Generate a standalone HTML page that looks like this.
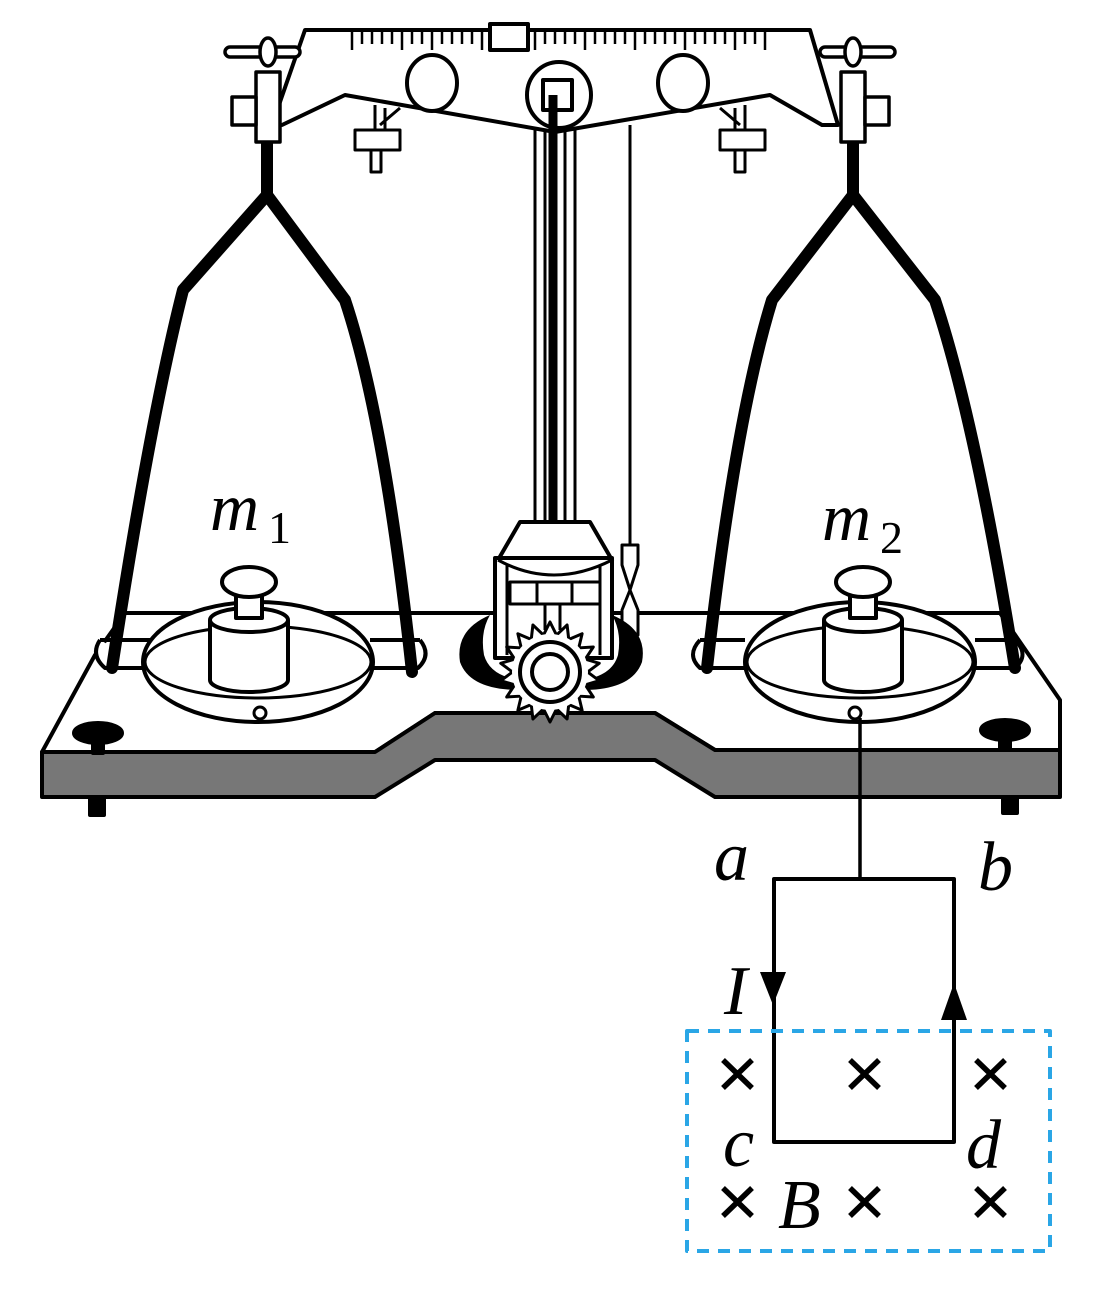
<!DOCTYPE html>
<html><head><meta charset="utf-8"><style>
html,body{margin:0;padding:0;background:#fff}
svg{display:block}
text{font-family:"Liberation Serif",serif;font-style:italic;fill:#000}
</style></head><body>
<svg width="1114" height="1294" viewBox="0 0 1114 1294" xmlns="http://www.w3.org/2000/svg">
<defs>
<polygon id="tooth" points="-7,-36 0,-50 7,-36"/>
</defs>
<g stroke="#000" stroke-width="4" fill="none" stroke-linejoin="round">
<path d="M42,752 L95,655 L125,613 L1000,613 L1060,700 L1060,750 L715,750 L655,713 L435,713 L375,752 Z" fill="#fff"/>
<path d="M42,752 L375,752 L435,713 L655,713 L715,750 L1060,750 L1060,797 L715,797 L655,760 L435,760 L375,797 L42,797 Z" fill="#777"/>
<rect x="90" y="797" width="14" height="18" fill="#000"/>
<rect x="1003" y="797" width="14" height="16" fill="#000"/>
<ellipse cx="98" cy="733" rx="24" ry="10" fill="#000"/>
<rect x="93" y="735" width="10" height="18" fill="#000"/>
<ellipse cx="1005" cy="730" rx="24" ry="10" fill="#000"/>
<rect x="1000" y="732" width="10" height="18" fill="#000"/>

<path d="M100,640 Q90,655 105,668 L150,668 M100,640 L150,640" fill="#fff"/>
<path d="M420,640 Q432,655 418,668 L370,668 M420,640 L370,640" fill="#fff"/>
<ellipse cx="258" cy="662" rx="115" ry="60" fill="#fff"/>
<ellipse cx="258" cy="662" rx="113" ry="36" fill="#fff" stroke-width="3"/>
<circle cx="260" cy="713" r="6" fill="#fff" stroke-width="3"/>
<path d="M700,640 Q686,655 700,668 L745,668 M700,640 L745,640" fill="#fff"/>
<path d="M1015,640 Q1030,655 1015,668 L975,668 M1015,640 L975,640" fill="#fff"/>
<ellipse cx="860" cy="662" rx="115" ry="60" fill="#fff"/>
<ellipse cx="860" cy="662" rx="113" ry="36" fill="#fff" stroke-width="3"/>
<circle cx="855" cy="713" r="6" fill="#fff" stroke-width="3"/>

<path d="M210,620 L210,680 A39,12 0 0 0 288,680 L288,620" fill="#fff"/>
<ellipse cx="249" cy="620" rx="39" ry="12" fill="#fff"/>
<rect x="236" y="588" width="26" height="30" fill="#fff"/>
<ellipse cx="249" cy="582" rx="27" ry="15" fill="#fff"/>
<path d="M824,620 L824,680 A39,12 0 0 0 902,680 L902,620" fill="#fff"/>
<ellipse cx="863" cy="620" rx="39" ry="12" fill="#fff"/>
<rect x="850" y="588" width="26" height="30" fill="#fff"/>
<ellipse cx="863" cy="582" rx="27" ry="15" fill="#fff"/>

<g stroke-width="12" stroke-linecap="round">
<path d="M267,140 L267,195 L183,290 Q150,420 112,668"/>
<path d="M267,195 L345,300 Q385,420 412,672"/>
<path d="M853,140 L853,195 L772,300 Q735,420 707,668"/>
<path d="M853,195 L935,300 Q975,420 1015,668"/>
</g>

<line x1="535" y1="125" x2="535" y2="522" stroke-width="3"/>
<line x1="545" y1="125" x2="545" y2="522" stroke-width="3"/>
<line x1="565" y1="125" x2="565" y2="522" stroke-width="3"/>
<line x1="575" y1="125" x2="575" y2="522" stroke-width="3"/>
<line x1="553" y1="95" x2="553" y2="522" stroke-width="9"/>
<line x1="630" y1="125" x2="630" y2="545" stroke-width="3"/>
<path d="M622,545 L638,545 L638,565 L630,590 L638,610 L638,635 L622,635 L622,610 L630,590 L622,565 Z" fill="#fff" stroke-width="3"/>
<!-- crescents -->
<path d="M490,615 Q455,630 460,662 Q470,690 520,690 L520,680 Q490,676 484,655 Q480,632 490,615 Z" fill="#000" stroke="none"/>
<path d="M612,615 Q648,630 642,662 Q632,690 582,690 L582,680 Q612,676 618,655 Q622,632 612,615 Z" fill="#000" stroke="none"/>
<path d="M520,522 L590,522 L612,560 L498,560 Z" fill="#fff"/>
<rect x="495" y="558" width="117" height="100" fill="#fff"/>
<line x1="507" y1="560" x2="507" y2="655" stroke-width="3"/>
<line x1="600" y1="560" x2="600" y2="655" stroke-width="3"/>
<path d="M498,560 Q553,590 612,560" fill="#fff" stroke-width="3"/>
<rect x="510" y="582" width="90" height="22" fill="#fff" stroke-width="3"/>
<line x1="537" y1="582" x2="537" y2="604" stroke-width="3"/>
<line x1="572" y1="582" x2="572" y2="604" stroke-width="3"/>
<line x1="545" y1="604" x2="545" y2="630" stroke-width="3"/>
<line x1="560" y1="604" x2="560" y2="630" stroke-width="3"/>
<!-- gear -->
<g transform="translate(550,672)" fill="#fff" stroke-width="3">
<use href="#tooth"/><use href="#tooth" transform="rotate(20)"/><use href="#tooth" transform="rotate(40)"/><use href="#tooth" transform="rotate(60)"/><use href="#tooth" transform="rotate(80)"/><use href="#tooth" transform="rotate(100)"/><use href="#tooth" transform="rotate(120)"/><use href="#tooth" transform="rotate(140)"/><use href="#tooth" transform="rotate(160)"/><use href="#tooth" transform="rotate(180)"/><use href="#tooth" transform="rotate(200)"/><use href="#tooth" transform="rotate(220)"/><use href="#tooth" transform="rotate(240)"/><use href="#tooth" transform="rotate(260)"/><use href="#tooth" transform="rotate(280)"/><use href="#tooth" transform="rotate(300)"/><use href="#tooth" transform="rotate(320)"/><use href="#tooth" transform="rotate(340)"/>
<circle r="38" stroke="none"/>
<circle r="30" stroke-width="4"/>
<circle r="18" stroke-width="4"/>
</g>

<path d="M305,30 L810,30 L838,125 L822,125 L770,95 L555,132 L345,95 L282,125 L272,125 Z" fill="#fff"/>
<g stroke-width="2.5">
<line x1="352" y1="32" x2="352" y2="50"/><line x1="362" y1="32" x2="362" y2="44"/><line x1="372" y1="32" x2="372" y2="44"/><line x1="382" y1="32" x2="382" y2="44"/><line x1="392" y1="32" x2="392" y2="44"/><line x1="402" y1="32" x2="402" y2="50"/><line x1="412" y1="32" x2="412" y2="44"/><line x1="422" y1="32" x2="422" y2="44"/><line x1="432" y1="32" x2="432" y2="50"/><line x1="442" y1="32" x2="442" y2="44"/><line x1="452" y1="32" x2="452" y2="44"/><line x1="462" y1="32" x2="462" y2="44"/><line x1="472" y1="32" x2="472" y2="44"/><line x1="482" y1="32" x2="482" y2="50"/>
<line x1="535" y1="32" x2="535" y2="50"/><line x1="545" y1="32" x2="545" y2="44"/><line x1="555" y1="32" x2="555" y2="44"/><line x1="565" y1="32" x2="565" y2="44"/><line x1="575" y1="32" x2="575" y2="44"/><line x1="585" y1="32" x2="585" y2="50"/><line x1="595" y1="32" x2="595" y2="44"/><line x1="605" y1="32" x2="605" y2="44"/><line x1="615" y1="32" x2="615" y2="44"/><line x1="625" y1="32" x2="625" y2="44"/><line x1="635" y1="32" x2="635" y2="50"/><line x1="645" y1="32" x2="645" y2="44"/><line x1="655" y1="32" x2="655" y2="44"/><line x1="665" y1="32" x2="665" y2="44"/><line x1="675" y1="32" x2="675" y2="44"/><line x1="685" y1="32" x2="685" y2="50"/><line x1="695" y1="32" x2="695" y2="44"/><line x1="705" y1="32" x2="705" y2="44"/><line x1="715" y1="32" x2="715" y2="44"/><line x1="725" y1="32" x2="725" y2="44"/><line x1="735" y1="32" x2="735" y2="50"/><line x1="745" y1="32" x2="745" y2="44"/><line x1="755" y1="32" x2="755" y2="44"/><line x1="765" y1="32" x2="765" y2="50"/>
</g>
<rect x="490" y="24" width="38" height="26" fill="#fff"/>
<ellipse cx="432" cy="83" rx="25" ry="28" fill="#fff"/>
<ellipse cx="683" cy="83" rx="25" ry="28" fill="#fff"/>
<ellipse cx="559" cy="95" rx="32" ry="33" fill="#fff"/>
<rect x="543" y="80" width="29" height="30" fill="#fff"/>
<line x1="553" y1="95" x2="553" y2="140" stroke-width="9"/>
<g stroke-width="3" fill="#fff">
<path d="M375,105 L375,130 M385,108 L385,130 M380,125 L400,108"/>
<rect x="355" y="130" width="45" height="20"/>
<rect x="371" y="150" width="10" height="22"/>
<path d="M735,108 L735,130 M745,105 L745,130 M740,125 L720,108"/>
<rect x="720" y="130" width="45" height="20"/>
<rect x="735" y="150" width="10" height="22"/>
</g>
<g fill="#fff" stroke-width="3.5">
<rect x="225" y="47" width="75" height="10" rx="5"/>
<ellipse cx="268" cy="52" rx="8" ry="14"/>
<rect x="256" y="72" width="24" height="70"/>
<rect x="232" y="97" width="24" height="28"/>
<rect x="820" y="47" width="75" height="10" rx="5"/>
<ellipse cx="853" cy="52" rx="8" ry="14"/>
<rect x="841" y="72" width="24" height="70"/>
<rect x="865" y="97" width="24" height="28"/>
</g>

<line x1="860" y1="718" x2="860" y2="879" stroke-width="3.5"/>
<rect x="774" y="879" width="180" height="263" stroke-width="4"/>
<polygon points="760,972 786,972 773,1005" fill="#000" stroke="none"/>
<polygon points="941,1020 967,1020 954,983" fill="#000" stroke="none"/>
<rect x="687" y="1031" width="363" height="220" stroke="#2aa6e6" stroke-width="4" stroke-dasharray="12 9"/>
<g stroke-width="5.5">
<path d="M723,1060 L752,1088 M752,1060 L723,1088"/>
<path d="M850,1060 L879,1088 M879,1060 L850,1088"/>
<path d="M976,1060 L1005,1088 M1005,1060 L976,1088"/>
<path d="M723,1188 L752,1216 M752,1188 L723,1216"/>
<path d="M850,1188 L879,1216 M879,1188 L850,1216"/>
<path d="M976,1188 L1005,1216 M1005,1188 L976,1216"/>
</g>
</g>
<text x="210" y="530" font-size="68">m</text><text x="268" y="543" font-size="46" style="font-style:normal">1</text>
<text x="822" y="540" font-size="68">m</text><text x="880" y="553" font-size="46" style="font-style:normal">2</text>
<text x="714" y="880" font-size="70">a</text>
<text x="978" y="890" font-size="70">b</text>
<text x="724" y="1014" font-size="70">I</text>
<text x="723" y="1166" font-size="70">c</text>
<text x="966" y="1168" font-size="70">d</text>
<text x="778" y="1228" font-size="70">B</text>
</svg>
</body></html>
